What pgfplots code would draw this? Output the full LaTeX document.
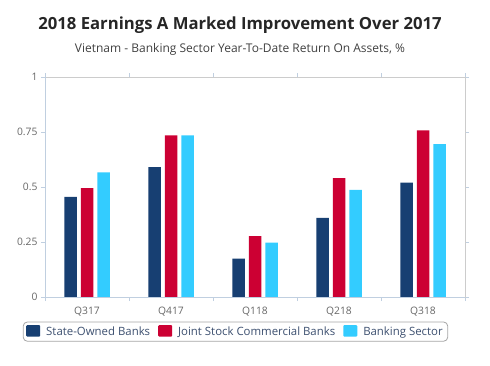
\documentclass[border=0pt]{standalone}
\usepackage{pgfplots}
\pgfplotsset{compat=1.18}
\usepackage{fontspec}
\setmainfont{Open Sans}
\definecolor{cnavy}{HTML}{173F72}
\definecolor{cred}{HTML}{CC0033}
\definecolor{ccyan}{HTML}{33CCFF}
\definecolor{tickgray}{HTML}{666666}
\definecolor{leggray}{HTML}{3D5070}
\definecolor{axblue}{HTML}{C0CFE0}
\begin{document}
\begin{tikzpicture}[x=1pt,y=1pt]
\useasboundingbox (-45,-68) rectangle (445,297);
\begin{axis}[
  at={(0,0)}, anchor=south west,
  scale only axis, width=420pt, height=220pt,
  ybar=4pt, bar width=12.5pt,
  xmin=-0.5, xmax=4.5, ymin=0, ymax=1,
  xtick={0,1,2,3,4},
  xticklabels={Q317,Q417,Q118,Q218,Q318},
  minor xtick={-0.5,0.5,1.5,2.5,3.5,4.5},
  ytick={0,0.25,0.5,0.75,1},
  yticklabels={0,0.25,0.5,0.75,1},
  major x tick style={draw=none},
  minor x tick style={draw=axblue, thick},
  ytick style={draw=axblue, thick},
  tick align=outside,
  major tick length=4pt, minor tick length=4pt,
  axis line style={draw=gray!40},
  ticklabel style={font=\fontsize{10.3}{12}\selectfont, text=tickgray},
  xticklabel style={yshift=-2pt},
  /pgf/number format/assume math mode=true,
  legend style={
    at={(0.4535,-0.112)}, anchor=north,
    draw=gray!70, rounded corners=4pt, line width=0.8pt,
    legend columns=3,
    font=\fontsize{11.4}{13}\selectfont, text=leggray,
    /tikz/every even column/.append style={column sep=6pt},
    /tikz/every odd column/.append style={column sep=4pt},
    inner xsep=3pt, inner ysep=2.5pt,
    nodes={inner sep=2pt},
  },
  legend image code/.code={\fill[#1, rounded corners=1pt] (0pt,-5pt) rectangle (14pt,6.5pt);},
  clip=false,
]
\addplot[fill=cnavy, draw=none] coordinates {(0,0.455) (1,0.59) (2,0.175) (3,0.36) (4,0.52)};
\addplot[fill=cred, draw=none] coordinates {(0,0.495) (1,0.735) (2,0.277) (3,0.54) (4,0.757)};
\addplot[fill=ccyan, draw=none] coordinates {(0,0.566) (1,0.735) (2,0.247) (3,0.487) (4,0.695)};
\legend{State-Owned Banks,Joint Stock Commercial Banks,Banking Sector}
\draw[axblue, line width=0.8pt] (rel axis cs:0,1) -- (rel axis cs:0,0) -- (rel axis cs:1,0);
\end{axis}
\node[font=\fontsize{16.7}{19}\bfseries\selectfont, text=black!85] at (195,272) {2018 Earnings A Marked Improvement Over 2017};
\node[font=\fontsize{12}{14}\selectfont, text=black!75] at (195,248) {Vietnam - Banking Sector Year-To-Date Return On Assets, \%};
\end{tikzpicture}
\end{document}
